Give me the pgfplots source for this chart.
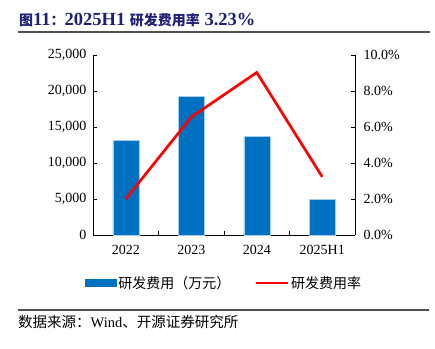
\documentclass[border=0pt]{standalone}
\usepackage{fontspec}
\setmainfont{Liberation Serif}
\newfontfamily\cjk{Noto Sans CJK SC}
\usepackage{pgfplots}
\pgfplotsset{compat=1.18}
\definecolor{barblue}{RGB}{0,112,192}
\definecolor{titleblue}{RGB}{32,32,120}
\definecolor{rulegray}{RGB}{80,80,80}
\begin{document}
\begin{tikzpicture}
\path[use as bounding box] (0pt,0pt) rectangle (435pt,348pt);
\draw[rulegray, line width=1.3pt] (18pt,316pt) -- (430pt,316pt);
\node[anchor=west, text=titleblue, font=\fontsize{18.5}{20}\selectfont\bfseries, inner sep=0pt] at (19pt,328pt)
  {{\cjk\fontsize{14}{16}\selectfont 图}11{\cjk\fontsize{14}{16}\selectfont ：}2025H1 {\cjk\fontsize{14}{16}\selectfont 研发费用率} 3.23\%};
\draw[rulegray, line width=1.3pt] (18pt,38pt) -- (429pt,38pt);
\node[anchor=west, font=\fontsize{14.5}{16}\selectfont, inner sep=0pt] at (18pt,26pt)
  {{\cjk 数据来源：}Wind{\cjk 、开源证券研究所}};

\begin{axis}[
  at={(93pt,113pt)}, anchor=south west, scale only axis,
  width=262pt, height=180pt,
  xmin=-0.5, xmax=3.5, ymin=0, ymax=25000,
  axis x line*=bottom, axis y line*=left, axis line style={-, line width=0.8pt},
  tick align=inside,
  xtick={0,1,2,3}, xticklabels={2022,2023,2024,2025H1},
  major x tick style={draw=none},
  minor xtick={0.5,1.5,2.5}, minor tick length=4pt, major tick length=4pt,
  ytick={0,5000,10000,15000,20000,25000},
  scaled y ticks=false,
  yticklabel style={/pgf/number format/.cd, fixed, 1000 sep={,}, assume math mode=true, /tikz/.cd, xshift=-3pt},
  xticklabel style={yshift=-7pt},
  ticklabel style={font=\fontsize{14}{16}\selectfont},
  tick style={black, line width=0.8pt},
]
\addplot[ybar, bar width=26pt, fill=barblue, draw=barblue!35, line width=0.5pt]
  coordinates {(0,13100) (1,19300) (2,13650) (3,4900)};
\end{axis}

\begin{axis}[
  at={(93pt,113pt)}, anchor=south west, scale only axis,
  width=262pt, height=180pt,
  xmin=-0.5, xmax=3.5, ymin=0, ymax=10,
  axis x line=none, axis y line*=right, axis line style={-, line width=0.8pt},
  tick align=inside, major tick length=4pt,
  ytick={0,2,4,6,8,10},
  yticklabel={\pgfmathprintnumber[fixed,fixed zerofill,precision=1,assume math mode=true]{\tick}\%},
  yticklabel style={xshift=5pt},
  ticklabel style={font=\fontsize{14}{16}\selectfont},
  tick style={black, line width=0.8pt},
  legend style={at={(0.5,-0.267)}, anchor=center, draw=none, fill=none,
    legend columns=2, font=\fontsize{14}{16}\selectfont\cjk,
    /tikz/every even column/.append style={column sep=22pt}},
  legend cell align=left,
]
\addlegendimage{legend image code/.code={\fill[barblue] (0pt,-3.5pt) rectangle (31pt,3.5pt);}}
\addlegendentry{研发费用（万元）}
\addplot[red, line width=2.7pt, mark=none,
  legend image code/.code={\draw[red, line width=2.7pt] (0pt,0pt) -- (32pt,0pt);}]
  coordinates {(0,2.0) (1,6.55) (2,9.03) (3,3.23)};
\addlegendentry{研发费用率}
\end{axis}
\end{tikzpicture}
\end{document}
